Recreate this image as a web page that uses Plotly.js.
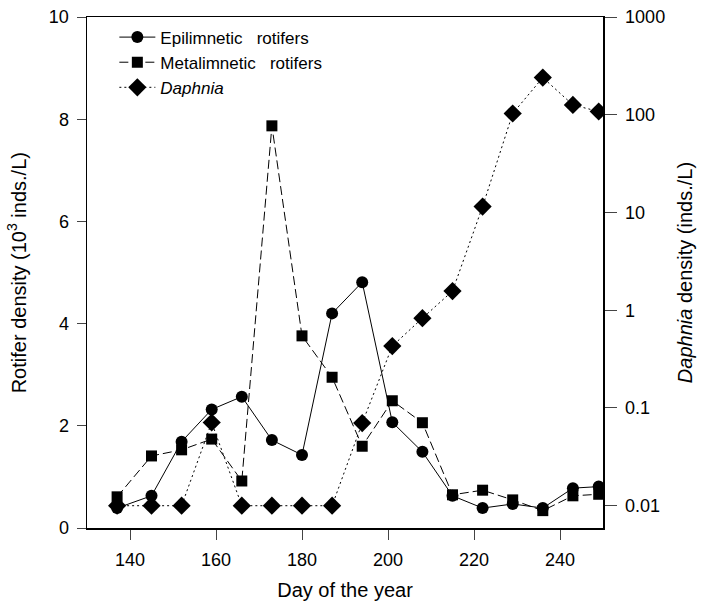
<!DOCTYPE html>
<html>
<head>
<meta charset="utf-8">
<script src="https://cdn.plot.ly/plotly-3.0.1.min.js"></script>
<style>html,body{margin:0;padding:0;background:#fff;}#chart{width:705px;height:606px;}</style>
</head>
<body>
<div id="chart"></div>
<script>
const days = [137,145,152,159,166,173,180,187,194,201,208,215,222,229,236,243,249];
const epilimnetic = [0.39,0.63,1.69,2.32,2.57,1.72,1.43,4.2,4.81,2.07,1.49,0.63,0.39,0.47,0.39,0.78,0.81];
const metalimnetic = [0.61,1.41,1.53,1.74,0.92,7.87,3.76,2.95,1.6,2.49,2.06,0.65,0.74,0.55,0.34,0.63,0.66];
const daphnia = [0.01,0.01,0.01,0.071,0.01,0.01,0.01,0.01,0.07,0.43,0.83,1.57,11.5,103,240,126,108];
const xTicks = [140,160,180,200,220,240];
const leftTicks = [0,2,4,6,8,10];
const rightTicks = [0.01,0.1,1,10,100,1000];
const rightTickText = ['0.01','0.1','1','10','100','1000'];

const font = {family: 'Liberation Sans, Arial, sans-serif', color: '#000'};

const traces = [
  {x: days, y: epilimnetic, name: 'Epilimnetic   rotifers', type: 'scatter', mode: 'lines+markers',
   line: {color: '#000', width: 1}, marker: {symbol: 'circle', size: 12, color: '#000'}, yaxis: 'y'},
  {x: days, y: metalimnetic, name: 'Metalimnetic   rotifers', type: 'scatter', mode: 'lines+markers',
   line: {color: '#000', width: 1, dash: '9px,4px'}, marker: {symbol: 'square', size: 11, color: '#000'}, yaxis: 'y'},
  {x: days, y: daphnia, name: '<i>Daphnia</i>', type: 'scatter', mode: 'lines+markers',
   line: {color: '#000', width: 1, dash: '2px,3px'}, marker: {symbol: 'diamond', size: 14, color: '#000'}, yaxis: 'y2'}
];

const layout = {
  width: 705, height: 606,
  margin: {l: 87, r: 102, t: 17, b: 78},
  paper_bgcolor: '#fff', plot_bgcolor: '#fff',
  font: Object.assign({size: 18}, font),
  showlegend: true,
  legend: {x: 0.053, y: 0.995, xanchor: 'left', yanchor: 'top', bgcolor: 'rgba(0,0,0,0)',
           font: Object.assign({size: 17}, font), tracegroupgap: 0, itemwidth: 36},
  xaxis: {range: [130, 250], tickvals: xTicks, ticks: 'outside', ticklen: 10, tickwidth: 1,
          ticklabelstandoff: 5,
          showline: true, linecolor: '#000', linewidth: 1.5, mirror: true, showgrid: false, zeroline: false,
          tickfont: Object.assign({size: 18}, font),
          title: {text: 'Day of the year', font: Object.assign({size: 20}, font), standoff: 14}},
  yaxis: {range: [0, 10], tickvals: leftTicks, ticks: 'outside', ticklen: 9, tickwidth: 1,
          ticklabelstandoff: 4,
          showline: true, linecolor: '#000', linewidth: 1.5, showgrid: false, zeroline: false,
          tickfont: Object.assign({size: 18}, font)},
  yaxis2: {type: 'log', range: [-2.228, 3.0], overlaying: 'y', side: 'right',
           tickvals: rightTicks, ticktext: rightTickText, ticks: 'outside', ticklen: 12, tickwidth: 1,
           ticklabelstandoff: 5,
           showline: true, linecolor: '#000', linewidth: 1.5, showgrid: false, zeroline: false,
           tickfont: Object.assign({size: 18}, font),
           title: {text: '<i>Daphnia</i> density (inds./L)', font: Object.assign({size: 20}, font), standoff: 14}},
  annotations: [
    {text: 'Rotifer density (10<sup>3</sup> inds./L)', xref: 'paper', yref: 'paper',
     x: -0.136, y: 0.5, xanchor: 'center', yanchor: 'middle', textangle: -90, showarrow: false,
     font: Object.assign({size: 20}, font)}
  ]
};

Plotly.newPlot('chart', traces, layout, {displayModeBar: false, staticPlot: true});
</script>
</body>
</html>
